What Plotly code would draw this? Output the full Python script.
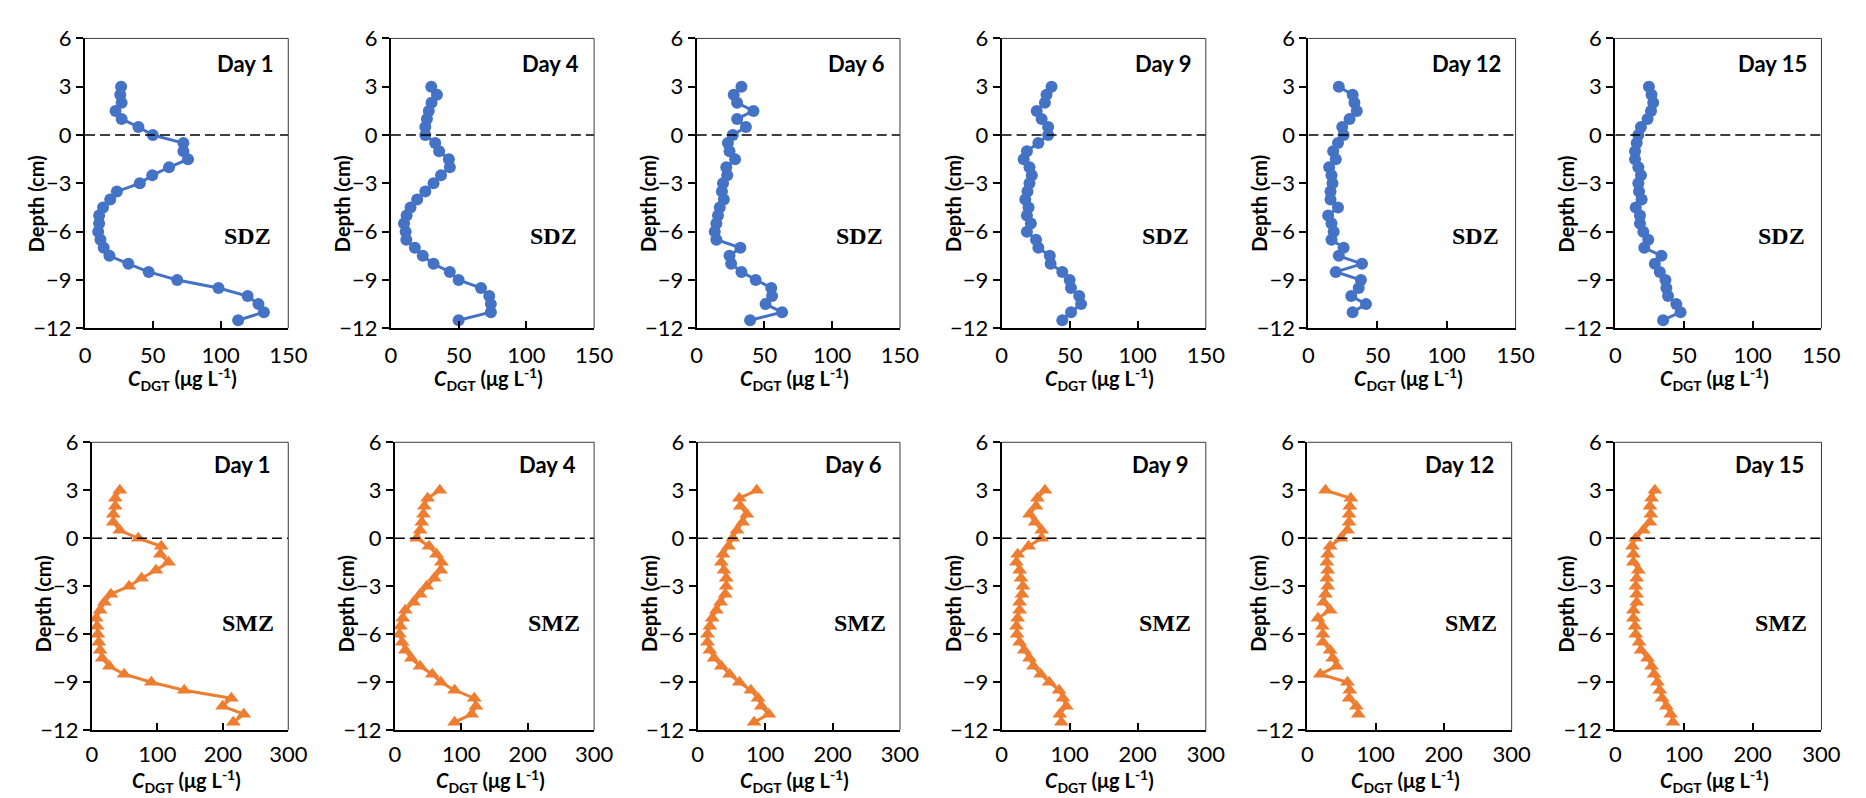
import plotly.graph_objects as go

# ---------------- data ----------------
depth = [3, 2.5, 2, 1.5, 1, 0.5, 0, -0.5, -1, -1.5, -2, -2.5, -3, -3.5, -4, -4.5,
         -5, -5.5, -6, -6.5, -7, -7.5, -8, -8.5, -9, -9.5, -10, -10.5, -11, -11.5]
depth_short = depth[:-1]  # down to -11 cm

days = ["Day 1", "Day 4", "Day 6", "Day 9", "Day 12", "Day 15"]

sdz_day1 = [26.6, 26, 27, 22.5, 27, 39.4, 50, 72.6, 72.6, 76, 62, 49.6, 40.4, 23.5, 18.6, 13.3,
            10.4, 10.4, 9.7, 11.4, 13.8, 18, 32, 47, 68, 98.5, 120, 128, 132, 113]
sdz_day4 = [29.8, 34, 30, 28, 26.6, 25.4, 25.4, 32.7, 35.6, 42.8, 43.5, 37, 31.5, 25.4, 19.4, 14.5,
            11.6, 9.7, 10.9, 11.4, 17.7, 23.5, 31.5, 43.5, 50, 66.5, 72.6, 73.8, 73.8, 50]
sdz_day6 = [33, 27.3, 29.8, 41.9, 29.8, 36.3, 26.6, 23, 24.2, 28.3, 21.8, 22.5, 19.4, 18.6, 20, 17,
            15.7, 14.5, 13.3, 14.5, 32.2, 24.2, 25.4, 33, 43.5, 55, 55.6, 50.8, 63, 39.4]
sdz_day9 = [36.7, 33, 31.8, 25.8, 29.4, 34.2, 34.2, 27, 18.6, 16.2, 20.5, 22.2, 20.5, 19, 17.4, 19.8,
            18.6, 21.5, 18.6, 25.3, 27, 35.4, 36, 44.6, 50, 51, 57, 58.4, 51, 44.6]
sdz_day12 = [22, 32, 33.3, 35, 29.8, 24.5, 25.5, 21.4, 17.9, 19.8, 15, 16.7, 17.4, 16, 16, 21.4,
             14.3, 16.7, 18.3, 16.7, 25.5, 22, 38.8, 19.8, 38, 36.4, 31, 41.7, 32]
sdz_day15 = [24.5, 26.4, 27.6, 26, 23.5, 18.7, 16.8, 15.6, 14.4, 14.4, 16.8, 18.7, 16.8, 17.3, 19.2, 14.9,
             18, 18, 20.4, 24, 21.1, 33.6, 28.8, 32.4, 36.5, 37.2, 38.4, 44.4, 47.5, 34.8]

smz_day1 = [42.6, 35.6, 35.6, 32.6, 32.6, 42.6, 70.7, 105.9, 104.4, 116.9, 97.8, 75.8, 56.7, 29, 19, 12.5,
            6.5, 8, 9, 10.5, 12.5, 15.6, 26.6, 49.2, 90.8, 141, 213, 199.7, 232, 216]
smz_day4 = [67.7, 49.4, 44.5, 43, 40.5, 38, 33, 51.4, 62.8, 70.2, 69.2, 59.3, 48, 38, 28.2, 15.8,
            11.9, 8.4, 6.9, 10.9, 15.8, 24.7, 38, 56.4, 69.2, 90, 119.6, 122, 115.7, 90]
smz_day6 = [87.5, 61.7, 63.2, 72.9, 66.6, 58.3, 52, 45.7, 37.4, 35, 38.9, 42.3, 42.3, 40.8, 34, 27.7,
            21.4, 18, 14.6, 14.6, 18, 24.3, 35, 47.2, 61.7, 78.8, 89.5, 94.3, 105.5, 83.6]
smz_day9 = [63.7, 52.6, 50.6, 41, 49.2, 58.8, 58.8, 39.6, 23.6, 21.7, 26.5, 28.5, 31.4, 29.9, 26.5, 26.5,
            23.6, 21.7, 22.7, 26.5, 33.3, 41, 46.8, 57.4, 70, 84.4, 90.2, 95, 85.4, 87.8]
smz_day12 = [26.5, 63.7, 62.2, 61.2, 61.2, 58.8, 49.2, 33.3, 29.9, 28.5, 29.9, 28.5, 29.9, 26.5, 23.6, 33.3,
             15.4, 21.7, 22.7, 22.7, 33.3, 37.1, 42.9, 18.8, 58.8, 62.2, 61.2, 71.9, 74.8]
smz_day15 = [57.6, 52.8, 50.4, 51.8, 50.4, 40.8, 29.8, 25, 26.4, 26.4, 33.6, 31.2, 29.8, 31.2, 31.2, 26.4,
             26.4, 28.8, 29.8, 34.6, 37.4, 47, 52.8, 56.6, 61.4, 64.8, 68.2, 74.4, 80.6, 84]

sdz_series = [sdz_day1, sdz_day4, sdz_day6, sdz_day9, sdz_day12, sdz_day15]
smz_series = [smz_day1, smz_day4, smz_day6, smz_day9, smz_day12, smz_day15]

y_ticks = [-12, -9, -6, -3, 0, 3, 6]
x_ticks_sdz = [0, 50, 100, 150]
x_ticks_smz = [0, 100, 200, 300]

# ---------------- layout geometry (pixels) ----------------
W, H = 1866, 798
top_left = [72, 382, 692, 1001, 1312, 1623]
top_right = [278, 588, 898, 1208, 1522, 1832]
bot_left = [79, 386, 693, 1001, 1311, 1623]
bot_right = [278, 588, 898, 1208, 1518, 1832]
top_y = (17, 317)
bot_y = (435, 733)

BLUE = "#4472C4"
ORANGE = "#ED7D31"
SANS = "Lato, Open Sans, sans-serif"
TICKFONT = dict(family=SANS, size=22, color="black")
TITLEFONT = dict(family=SANS, size=20, color="black")

def px(x):
    return x / W

def py(y):
    return 1 - y / H

fig = go.Figure()
annotations = []
shapes = []

rows = [
    dict(series=sdz_series, color=BLUE, symbol="circle", lefts=top_left, rights=top_right,
         yb=top_y, xmax=150, xticks=x_ticks_sdz, label="SDZ", label_y=221, day_dy=26,
         ytitle_y=188, xtitle_y=370, day_dx=13, standoff=6),
    dict(series=smz_series, color=ORANGE, symbol="triangle-up", lefts=bot_left, rights=bot_right,
         yb=bot_y, xmax=300, xticks=x_ticks_smz, label="SMZ", label_y=622, day_dy=23,
         ytitle_y=602, xtitle_y=786, day_dx=16, standoff=3),
]

n = 0
for r in rows:
    for i in range(6):
        n += 1
        xa = "x" if n == 1 else f"x{n}"
        ya = "y" if n == 1 else f"y{n}"
        vals = r["series"][i]
        d = depth if len(vals) == len(depth) else depth_short
        fig.add_trace(go.Scatter(
            x=vals, y=d, mode="lines+markers", xaxis=xa, yaxis=ya,
            line=dict(color=r["color"], width=3),
            marker=dict(symbol=r["symbol"], size=12 if r["symbol"] == "circle" else 13,
                        color=r["color"]),
            showlegend=False, hoverinfo="skip"))
        # dashed zero line
        fig.add_trace(go.Scatter(
            x=[0, r["xmax"]], y=[0, 0], mode="lines", xaxis=xa, yaxis=ya,
            line=dict(color="black", width=1.6, dash="10px,5px"),
            showlegend=False, hoverinfo="skip"))

        L, R = r["lefts"][i], r["rights"][i]
        T, B = r["yb"]
        xk = "xaxis" if n == 1 else f"xaxis{n}"
        yk = "yaxis" if n == 1 else f"yaxis{n}"
        fig.layout[xk] = dict(
            domain=[px(L), px(R)], anchor=ya, range=[0, r["xmax"]],
            tickvals=r["xticks"], ticks="inside", ticklen=7, tickwidth=1.5, tickcolor="black",
            showline=True, linecolor="black", linewidth=2, showgrid=False, zeroline=False,
            tickfont=TICKFONT, ticklabelstandoff=r["standoff"], fixedrange=True)
        fig.layout[yk] = dict(
            domain=[py(B), py(T)], anchor=xa, range=[-12, 6],
            tickvals=y_ticks, ticks="outside", ticklen=7, tickwidth=1.5, tickcolor="black",
            showline=True, linecolor="black", linewidth=2, showgrid=False, zeroline=False,
            tickfont=TICKFONT, fixedrange=True)
        # thin frame on top/right
        shapes.append(dict(type="line", xref="paper", yref="paper",
                           x0=px(L), x1=px(R), y0=py(T), y1=py(T),
                           line=dict(color="#3a3a3a", width=1)))
        shapes.append(dict(type="line", xref="paper", yref="paper",
                           x0=px(R), x1=px(R), y0=py(T), y1=py(B),
                           line=dict(color="#3a3a3a", width=1)))
        # Day label
        annotations.append(dict(
            text=f"<b>{days[i]}</b>", xref="paper", yref="paper",
            x=px(R - r["day_dx"]), y=py(T + r["day_dy"]), xanchor="right", yanchor="middle",
            showarrow=False, font=dict(family=SANS, size=22, color="black")))
        # zone label
        annotations.append(dict(
            text=f"<b>{r['label']}</b>", xref="paper", yref="paper",
            x=px(R - 41), y=py(r["label_y"]), xanchor="center", yanchor="middle",
            showarrow=False, font=dict(family="Liberation Serif, Times New Roman, serif",
                                       size=24, color="black")))
        # y title
        annotations.append(dict(
            text="<b>Depth (cm)</b>", xref="paper", yref="paper",
            x=px(L - 50), y=py(r["ytitle_y"]), xanchor="center", yanchor="middle",
            textangle=-90, showarrow=False, font=TITLEFONT))
        # x title
        annotations.append(dict(
            text="<b><i>C</i><sub>DGT</sub> (μg L<sup>-1</sup>)</b>", xref="paper", yref="paper",
            x=px((L + R) / 2 - 4), y=py(r["xtitle_y"]), xanchor="center", yanchor="middle",
            showarrow=False, font=TITLEFONT))

fig.update_layout(
    width=W, height=H, margin=dict(l=0, r=0, t=0, b=0),
    paper_bgcolor="white", plot_bgcolor="white",
    annotations=annotations, shapes=shapes)

fig.write_html("out.html")
